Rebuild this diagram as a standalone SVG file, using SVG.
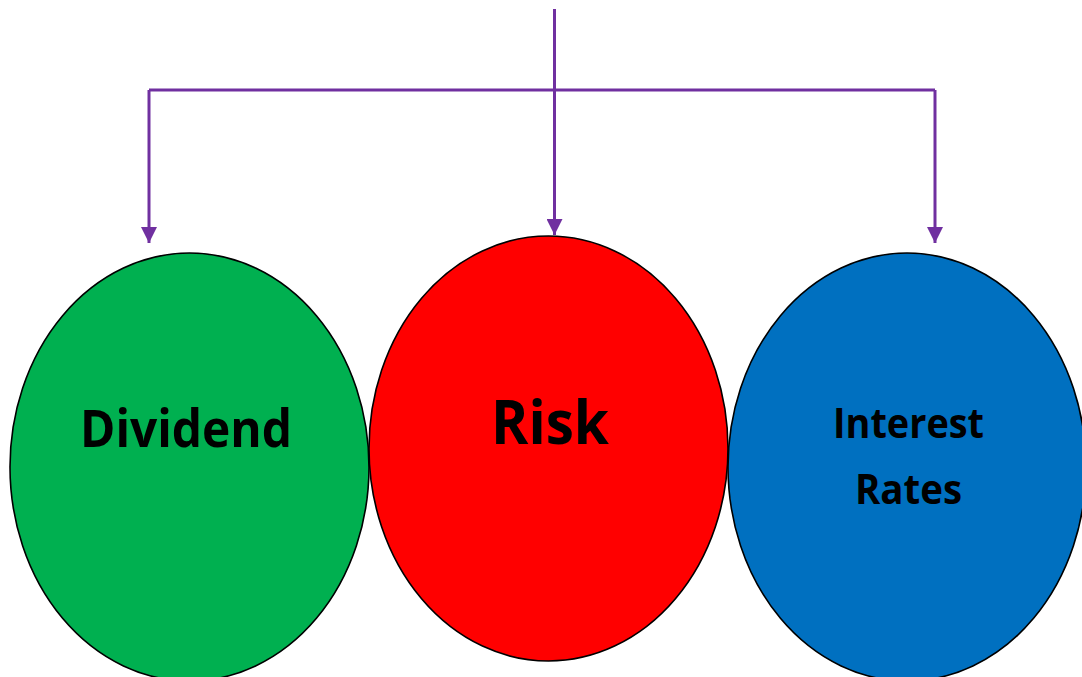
<svg xmlns="http://www.w3.org/2000/svg" width="1082" height="677" viewBox="0 0 1082 677">
<defs>
<style>
.node{stroke:#000;stroke-width:1.6}
.lbl{font-family:"Open Sans","Liberation Sans",sans-serif;font-weight:bold;fill:#000}
.conn{stroke:#7030A0;stroke-width:3;fill:none}
</style>
<marker id="arr" markerUnits="userSpaceOnUse" markerWidth="18" markerHeight="16" refX="16" refY="8" orient="auto">
<path d="M0,0 L16,8 L0,16 Z" fill="#7030A0"/>
</marker>
</defs>
<rect width="1082" height="677" fill="#fff"/>
<g id="connectors">
<line class="conn" x1="554.5" y1="9" x2="554.5" y2="90"/>
<line class="conn" x1="149" y1="90" x2="935" y2="90"/>
<line class="conn" x1="149" y1="90" x2="149" y2="243" marker-end="url(#arr)"/>
<line class="conn" x1="554.5" y1="90" x2="554.5" y2="235" marker-end="url(#arr)"/>
<line class="conn" x1="935" y1="90" x2="935" y2="243" marker-end="url(#arr)"/>
</g>
<g id="dividend">
<ellipse class="node" cx="189.5" cy="467" rx="179.5" ry="214" fill="#00B050"/>
<text class="lbl" x="80" y="447" font-size="52" textLength="212" lengthAdjust="spacingAndGlyphs">Dividend</text>
</g>
<g id="risk">
<ellipse class="node" cx="548.5" cy="448.5" rx="179.5" ry="212.5" fill="#FF0000"/>
<text class="lbl" x="491" y="444" font-size="61" textLength="118" lengthAdjust="spacingAndGlyphs">Risk</text>
</g>
<g id="interest-rates">
<ellipse class="node" cx="907" cy="467" rx="179" ry="214" fill="#0070C0"/>
<text class="lbl" x="833" y="438" font-size="41" textLength="151" lengthAdjust="spacingAndGlyphs">Interest</text>
<text class="lbl" x="855" y="504" font-size="41" textLength="107" lengthAdjust="spacingAndGlyphs">Rates</text>
</g>
</svg>
